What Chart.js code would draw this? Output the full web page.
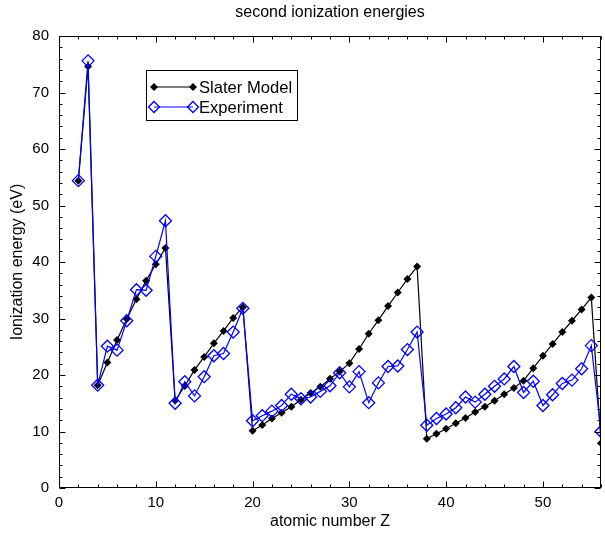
<!DOCTYPE html>
<html>
<head>
<meta charset="utf-8">
<script src="https://cdn.jsdelivr.net/npm/chart.js@4.4.0/dist/chart.umd.min.js"></script>
<style>
    html, body { margin: 0; padding: 0; background: #fff; }
    canvas { display: block; }
</style>
</head>
<body>
<canvas id="ionizacao" width="605" height="534"></canvas>
<script>
// Atomic number Z (2 .. 56)
const atomicNumbers = [2, 3, 4, 5, 6, 7, 8, 9, 10, 11, 12, 13, 14, 15, 16, 17, 18, 19, 20,
    21, 22, 23, 24, 25, 26, 27, 28, 29, 30, 31, 32, 33, 34, 35, 36, 37, 38, 39, 40,
    41, 42, 43, 44, 45, 46, 47, 48, 49, 50, 51, 52, 53, 54, 55, 56];

// Second ionization energy, Slater model (eV)
const slaterModel = [54.4, 74.6, 18.2, 22.2, 26.2, 29.9, 33.4, 36.7, 39.6, 42.5,
    15.5, 18.05, 20.9, 23.2, 25.6, 27.8, 30.1, 32.0,
    10.15, 11.15, 12.3, 13.3, 14.4, 15.6, 16.8, 17.9, 19.35, 20.6, 22.1,
    24.6, 27.3, 29.7, 32.2, 34.6, 37.0, 39.2,
    8.7, 9.6, 10.5, 11.45, 12.4, 13.45, 14.4, 15.45, 16.6, 17.7, 19.0,
    21.2, 23.4, 25.5, 27.6, 29.6, 31.6, 33.7, 7.9];

// Second ionization energy, experiment (eV)
const experiment = [54.4, 75.6, 18.2, 25.1, 24.4, 29.6, 35.1, 35.0, 41.0, 47.3,
    15.0, 18.8, 16.3, 19.7, 23.4, 23.8, 27.6, 31.8,
    11.9, 12.8, 13.6, 14.6, 16.6, 15.8, 16.1, 17.1, 18.1, 20.4, 17.9,
    20.6, 15.1, 18.6, 21.5, 21.6, 24.5, 27.6,
    11.1, 12.3, 13.1, 14.2, 16.1, 15.2, 16.6, 18.0, 19.3, 21.5, 16.9,
    18.9, 14.6, 16.5, 18.5, 19.1, 21.1, 25.2, 10.0];

// Tick labels
const xTickValues = [0, 10, 20, 30, 40, 50];
const yTickValues = [0, 10, 20, 30, 40, 50, 60, 70, 80];

const fonte = "'Liberation Sans', Arial, Helvetica, sans-serif";
const azul = '#0000ff';

function toPoints(values) {
    return atomicNumbers.map((z, i) => ({ x: z, y: values[i] }));
}

// Desenha um losango (cheio ou vazio)
function drawDiamond(ctx, cx, cy, r, color, filled) {
    ctx.beginPath();
    ctx.moveTo(cx - r, cy);
    ctx.lineTo(cx, cy - r);
    ctx.lineTo(cx + r, cy);
    ctx.lineTo(cx, cy + r);
    ctx.closePath();
    if (filled) {
        ctx.fillStyle = color;
        ctx.fill();
    } else {
        ctx.strokeStyle = color;
        ctx.lineWidth = 1.3;
        ctx.stroke();
    }
}

// Moldura, marcas internas e legenda
const framePlugin = {
    id: 'framePlugin',
    afterDatasetsDraw(chart) {
        const { ctx, chartArea: a, scales: { x, y } } = chart;
        ctx.save();
        ctx.strokeStyle = '#000';
        ctx.lineWidth = 1;
        const L = Math.round(a.left) + 0.5, R = Math.round(a.right) - 0.5;
        const T = Math.round(a.top) + 0.5, B = Math.round(a.bottom) - 0.5;
        ctx.strokeRect(L, T, R - L, B - T);

        ctx.beginPath();
        for (let v = 0; v <= 56; v += 2) {
            const px = Math.round(x.getPixelForValue(v)) + 0.5;
            const len = v % 10 === 0 ? 6 : 3;
            ctx.moveTo(px, B); ctx.lineTo(px, B - len);
            ctx.moveTo(px, T); ctx.lineTo(px, T + len);
        }
        for (let v = 0; v <= 80; v += 2) {
            const py = Math.round(y.getPixelForValue(v)) + 0.5;
            const len = v % 10 === 0 ? 6 : 3;
            ctx.moveTo(L, py); ctx.lineTo(L + len, py);
            ctx.moveTo(R, py); ctx.lineTo(R - len, py);
        }
        ctx.stroke();

        // Legenda
        const bx = 146.5, by = 70.5, bw = 151, bh = 50;
        ctx.fillStyle = '#fff';
        ctx.fillRect(bx, by, bw, bh);
        ctx.strokeStyle = '#000';
        ctx.lineWidth = 1;
        ctx.strokeRect(bx, by, bw, bh);

        const entries = [
            { label: 'Slater Model', color: '#000', filled: true, r: 4, y: 87 },
            { label: 'Experiment', color: azul, filled: false, r: 5.5, y: 107 }
        ];
        ctx.font = '16.6px ' + fonte;
        ctx.textBaseline = 'middle';
        ctx.textAlign = 'left';
        entries.forEach(e => {
            ctx.beginPath();
            ctx.strokeStyle = e.color;
            ctx.lineWidth = 1.2;
            ctx.moveTo(154, e.y);
            ctx.lineTo(193, e.y);
            ctx.stroke();
            drawDiamond(ctx, 154, e.y, e.r, e.color, e.filled);
            drawDiamond(ctx, 193, e.y, e.r, e.color, e.filled);
            ctx.fillStyle = '#000';
            ctx.fillText(e.label, 199, e.y + 1);
        });
        ctx.restore();
    }
};

const ctx = document.getElementById('ionizacao').getContext('2d');
new Chart(ctx, {
    type: 'line',
    data: {
        datasets: [{
            label: 'Experiment',
            data: toPoints(experiment),
            borderColor: azul,
            borderWidth: 1.2,
            pointStyle: 'rectRot',
            pointRadius: 6,
            pointBorderWidth: 1.3,
            pointBorderColor: azul,
            pointBackgroundColor: 'rgba(0,0,0,0)',
            tension: 0,
            order: 0
        }, {
            label: 'Slater Model',
            data: toPoints(slaterModel),
            borderColor: '#000',
            borderWidth: 1.2,
            pointStyle: 'rectRot',
            pointRadius: 4,
            pointBorderWidth: 0,
            pointBackgroundColor: '#000',
            tension: 0,
            order: 1
        }]
    },
    options: {
        responsive: false,
        animation: false,
        devicePixelRatio: 1,
        layout: { autoPadding: false, padding: { left: 0, right: 4, top: 0, bottom: 0 } },
        scales: {
            x: {
                type: 'linear',
                min: 0,
                max: 56,
                afterBuildTicks: scale => { scale.ticks = xTickValues.map(v => ({ value: v })); },
                afterFit: scale => { scale.height = 46; },
                grid: { display: false, drawTicks: false },
                border: { display: false },
                ticks: { color: '#000', padding: 6, maxRotation: 0, font: { family: fonte, size: 15 } },
                title: {
                    display: true,
                    text: 'atomic number Z',
                    color: '#000',
                    padding: { top: 0, bottom: 3 },
                    font: { family: fonte, size: 16 }
                }
            },
            y: {
                type: 'linear',
                min: 0,
                max: 80,
                afterBuildTicks: scale => { scale.ticks = yTickValues.map(v => ({ value: v })); },
                afterFit: scale => { scale.width = 59; },
                grid: { display: false, drawTicks: false },
                border: { display: false },
                ticks: { color: '#000', padding: 10, font: { family: fonte, size: 15 } },
                title: {
                    display: true,
                    text: 'Ionization energy (eV)',
                    color: '#000',
                    padding: { top: 8, bottom: 0 },
                    font: { family: fonte, size: 16 }
                }
            }
        },
        plugins: {
            legend: { display: false },
            tooltip: { enabled: false },
            title: {
                display: true,
                text: 'second ionization energies',
                color: '#000',
                fullSize: false,
                padding: { top: 2.5, bottom: 14.3 },
                font: { family: fonte, size: 16, weight: 'normal' }
            }
        }
    },
    plugins: [framePlugin]
});
</script>
</body>
</html>
